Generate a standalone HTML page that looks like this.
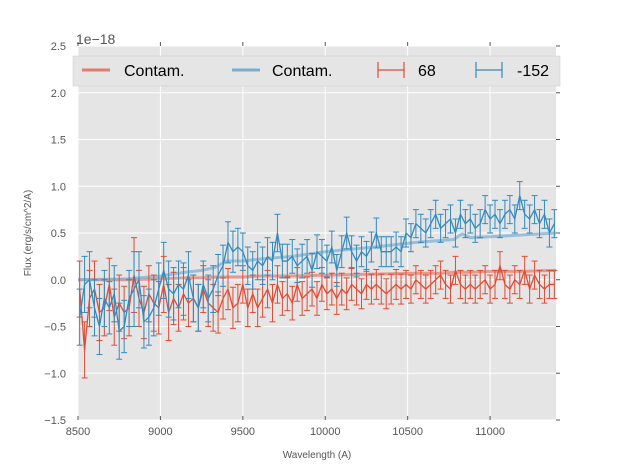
<!DOCTYPE html>
<html><head><meta charset="utf-8"><style>
body{margin:0;background:#fff;}
svg text{font-family:"Liberation Sans","DejaVu Sans",sans-serif;}
</style></head><body>
<svg id="chart" width="617" height="467" xmlns="http://www.w3.org/2000/svg">
<rect x="78" y="46" width="478" height="374" fill="#e5e5e5"/>
<g id="grid"></g><g id="marks"></g><g id="axes"></g>
<text x="76" y="44" font-size="14" fill="#555">1e−18</text>
<text x="317" y="458" font-size="10" fill="#555" text-anchor="middle">Wavelength (A)</text>
<text transform="translate(31,233) rotate(-90)" font-size="10" fill="#555" text-anchor="middle">Flux (erg/s/cm^2/A)</text>
<g>
<rect x="73" y="56" width="487" height="30" fill="#e5e5e5" stroke="#ccc" stroke-width="0.5"/>
<g><line x1="82" y1="70" x2="110" y2="70" stroke="#e8796a" stroke-width="3"/><text x="124" y="76" font-size="16" fill="#000">Contam.</text></g>
<g><line x1="232" y1="70" x2="260" y2="70" stroke="#79aed4" stroke-width="3"/><text x="272" y="76" font-size="16" fill="#000">Contam.</text></g>
<g><line x1="378" y1="70" x2="404" y2="70" stroke="#e24a33" stroke-width="1.2"/><line x1="378" y1="62" x2="378" y2="78" stroke="#e24a33" stroke-width="1.2"/><line x1="404" y1="62" x2="404" y2="78" stroke="#e24a33" stroke-width="1.2"/><text x="418" y="76" font-size="16" fill="#000">68</text></g>
<g><line x1="476" y1="70" x2="502" y2="70" stroke="#348abd" stroke-width="1.2"/><line x1="476" y1="62" x2="476" y2="78" stroke="#348abd" stroke-width="1.2"/><line x1="502" y1="62" x2="502" y2="78" stroke="#348abd" stroke-width="1.2"/><text x="517" y="76" font-size="16" fill="#000">-152</text></g>
</g>
</svg>
<script>
const xTicks=[8500,9000,9500,10000,10500,11000];
const yTicks=[-1.5,-1.0,-0.5,0.0,0.5,1.0,1.5,2.0,2.5];
const fluxRed=[-0.1,-0.75,-0.2,-0.1,-0.35,-0.3,-0.05,-0.4,-0.25,-0.35,-0.3,0.05,-0.2,-0.35,-0.15,-0.25,-0.3,-0.05,-0.35,-0.2,-0.3,-0.15,-0.25,-0.2,-0.3,-0.1,-0.25,-0.3,-0.35,-0.2,-0.1,-0.3,-0.25,-0.05,-0.3,-0.15,-0.3,-0.2,-0.1,-0.25,-0.05,-0.2,-0.15,-0.25,-0.05,-0.2,-0.15,-0.1,-0.2,-0.05,-0.15,-0.1,-0.2,-0.1,-0.15,-0.05,-0.1,-0.15,-0.05,-0.1,-0.05,-0.1,-0.15,-0.1,-0.05,-0.1,-0.05,-0.1,0.0,-0.05,-0.1,-0.05,0.0,0.05,-0.05,-0.1,0.1,-0.05,-0.1,-0.05,-0.1,-0.05,0.0,-0.1,-0.05,0.15,-0.05,-0.1,0.0,-0.05,0.1,-0.1,0.05,-0.05,-0.1,-0.05,-0.05];
const errRed=[0.3,0.3,0.3,0.3,0.3,0.3,0.28,0.3,0.3,0.28,0.3,0.4,0.3,0.28,0.3,0.3,0.28,0.3,0.3,0.28,0.25,0.28,0.25,0.25,0.25,0.25,0.25,0.25,0.22,0.22,0.22,0.22,0.2,0.2,0.2,0.2,0.2,0.2,0.2,0.2,0.2,0.18,0.18,0.18,0.18,0.18,0.18,0.18,0.18,0.18,0.17,0.17,0.17,0.17,0.17,0.17,0.17,0.16,0.16,0.16,0.16,0.16,0.16,0.16,0.16,0.16,0.15,0.15,0.15,0.15,0.15,0.15,0.15,0.15,0.15,0.15,0.15,0.15,0.15,0.15,0.15,0.15,0.15,0.15,0.15,0.15,0.15,0.15,0.15,0.15,0.15,0.15,0.15,0.15,0.15,0.15,0.15];
const fluxBlue=[-0.4,-0.05,0.0,-0.3,-0.5,-0.2,-0.3,-0.15,-0.55,-0.5,-0.2,-0.1,0.0,-0.45,-0.4,-0.3,-0.1,0.1,-0.1,-0.15,-0.05,-0.1,0.05,-0.2,-0.3,-0.05,-0.2,-0.1,0.05,0.15,0.4,0.3,0.35,0.3,0.15,0.1,0.2,0.15,0.25,0.2,0.5,0.2,0.2,0.25,0.15,0.2,0.25,0.1,0.3,0.25,0.2,0.35,0.1,0.3,0.5,0.3,0.2,0.3,0.25,0.35,0.5,0.3,0.3,0.3,0.35,0.3,0.5,0.45,0.6,0.55,0.5,0.6,0.7,0.55,0.6,0.65,0.5,0.7,0.6,0.65,0.55,0.6,0.75,0.65,0.7,0.6,0.7,0.75,0.65,0.9,0.7,0.65,0.75,0.6,0.7,0.5,0.6];
const errBlue=errRed;
const contamWave=[8500,8800,9000,9150,9250,9330,9400,9500,9600,9800,10000,10300,10550,10700,10780,10830,10880,11000,11200,11400];
const contamRed=[0.0,0.0,0.01,0.02,0.02,0.03,0.03,0.03,0.04,0.04,0.05,0.06,0.07,0.07,0.08,0.08,0.08,0.09,0.09,0.1];
const contamBlue=[0.0,0.01,0.04,0.08,0.1,0.13,0.2,0.2,0.22,0.25,0.3,0.35,0.4,0.42,0.43,0.49,0.45,0.46,0.48,0.5];
const NS="http://www.w3.org/2000/svg";
const X=w=>78+(w-8500)*(478/2900);
const Y=v=>279.75-v*93.5;
function mk(t,a,p){const e=document.createElementNS(NS,t);for(const k in a)e.setAttribute(k,a[k]);p.appendChild(e);return e;}
const grid=document.getElementById('grid'),marks=document.getElementById('marks'),axes=document.getElementById('axes');
xTicks.forEach(t=>{const x=X(t);
 const g=mk('line',{x1:x,x2:x,y1:46,y2:420,stroke:'#fff','stroke-width':1},grid);
 
 
 mk('line',{x1:x,x2:x,y1:420,y2:416,stroke:'#555'},axes);mk('line',{x1:x,x2:x,y1:42,y2:46,stroke:'#555'},axes);
 const l=mk('text',{x:x,y:435,'font-size':11,fill:'#555','text-anchor':'middle'},axes);l.textContent=t;
 
 });
yTicks.forEach(t=>{const y=Y(t);
 const g=mk('line',{x1:78,x2:556,y1:y,y2:y,stroke:'#fff','stroke-width':1},grid);
 
 
 mk('line',{x1:556,x2:560,y1:y,y2:y,stroke:'#555'},axes);
 const l=mk('text',{x:66,y:y+4,'font-size':11,fill:'#555','text-anchor':'end'},axes);l.textContent=t.toFixed(1).replace('-','−');
 
 });
function contam(vals,col,name){const p=mk('polyline',{points:contamWave.map((w,i)=>X(w)+','+Y(vals[i])).join(' '),fill:'none',stroke:col,'stroke-width':3,'stroke-opacity':0.7},marks);
 
 }
function series(vals,errs,col,name){const g=mk('g',{},marks);
 
 
 const pts=[];vals.forEach((v,i)=>{const x=X(8510+30*i),e=errs[i];pts.push(x+','+Y(v));
  mk('line',{x1:x,x2:x,y1:Y(v+e),y2:Y(v-e),stroke:col,'stroke-width':1},g);
  mk('line',{x1:x-3,x2:x+3,y1:Y(v+e),y2:Y(v+e),stroke:col,'stroke-width':1},g);
  mk('line',{x1:x-3,x2:x+3,y1:Y(v-e),y2:Y(v-e),stroke:col,'stroke-width':1},g);});
 mk('polyline',{points:pts.join(' '),fill:'none',stroke:col,'stroke-width':1.3},g);}
contam(contamRed,'#e8796a','contam-line-68');
contam(contamBlue,'#79aed4','contam-line-152');
series(fluxRed,errRed,'#e24a33','series-68');
series(fluxBlue,errBlue,'#348abd','series-152');
</script>
</body></html>
